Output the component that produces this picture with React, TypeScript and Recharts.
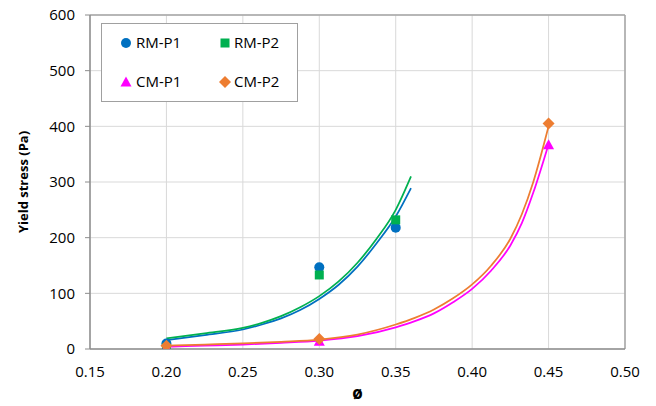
import React from 'react';
import {
  ComposedChart,
  XAxis,
  YAxis,
  CartesianGrid,
  Line,
  Scatter,
  Legend,
  ReferenceLine,
} from 'recharts';

// ---- data ----
const xTicks = [0.15, 0.2, 0.25, 0.3, 0.35, 0.4, 0.45, 0.5];
const yTicks = [0, 100, 200, 300, 400, 500, 600];

const rmP1 = [
  { x: 0.2, y: 10 },
  { x: 0.3, y: 147 },
  { x: 0.35, y: 218 },
];
const rmP2 = [
  { x: 0.2, y: 2 },
  { x: 0.3, y: 133 },
  { x: 0.35, y: 232 },
];
const cmP1 = [
  { x: 0.2, y: 3 },
  { x: 0.3, y: 14 },
  { x: 0.45, y: 367 },
];
const cmP2 = [
  { x: 0.2, y: 6 },
  { x: 0.3, y: 18 },
  { x: 0.45, y: 405 },
];

// trend lines
const rmPhi = [0.2, 0.225, 0.25, 0.2625, 0.275, 0.2875, 0.3, 0.3125, 0.325, 0.3375, 0.35, 0.36];
const rmP1Fit = [16, 25, 35, 44, 55, 70, 90, 115, 148, 190, 238, 289];
const rmP2Fit = [19, 28, 38, 47, 59, 75, 95, 121, 155, 198, 250, 310];

const cmPhi = [0.2, 0.225, 0.25, 0.275, 0.3, 0.325, 0.35, 0.3625, 0.375, 0.3875, 0.4, 0.4125, 0.425, 0.4325, 0.44, 0.45];
const cmP1Fit = [4, 6, 8, 11, 15, 23, 39, 50, 64, 84, 108, 141, 186, 226, 281, 368];
const cmP2Fit = [6, 8, 10, 13, 17, 26, 44, 56, 71, 91, 116, 150, 198, 242, 300, 400];

const legendNames = ['RM-P1', 'RM-P2', 'CM-P1', 'CM-P2'];

// ---- styles ----
const BLUE = '#0070C0';
const GREEN = '#00B050';
const MAGENTA = '#FF00FF';
const ORANGE = '#ED7D31';
const FONT = '"Open Sans", sans-serif';
const TEXT = '#000000';

const toPts = (xs: number[], ys: number[]) => xs.map((x, i) => ({ x, y: ys[i] }));

const circleShape = (color: string) => (p: any) => (
  <circle cx={p.cx} cy={p.cy} r={5} fill={color} />
);
const squareShape = (color: string) => (p: any) => (
  <rect x={p.cx - 4.5} y={p.cy - 4.5} width={9} height={9} fill={color} />
);
const triangleShape = (color: string) => (p: any) => (
  <polygon
    points={`${p.cx},${p.cy - 5.5} ${p.cx + 5.5},${p.cy + 4.5} ${p.cx - 5.5},${p.cy + 4.5}`}
    fill={color}
  />
);
const diamondShape = (color: string) => (p: any) => (
  <polygon
    points={`${p.cx},${p.cy - 6} ${p.cx + 6},${p.cy} ${p.cx},${p.cy + 6} ${p.cx - 6},${p.cy}`}
    fill={color}
  />
);

const LegendBox = () => {
  const w = 197;
  const h = 79;
  const ts = { fontFamily: FONT, fontSize: 15, fill: TEXT } as any;
  return (
    <svg width={w} height={h} style={{ display: 'block' }}>
      <rect x={0.5} y={0.5} width={w - 1} height={h - 1} fill="#fff" stroke="#A0A0A0" strokeWidth={1} />
      <circle cx={25} cy={20} r={5} fill={BLUE} />
      <text x={35} y={20} dy="0.36em" style={ts}>{legendNames[0]}</text>
      <rect x={119.5} y={15.5} width={9} height={9} fill={GREEN} />
      <text x={133} y={20} dy="0.36em" style={ts}>{legendNames[1]}</text>
      <polygon points={`25,53.5 30.5,63.5 19.5,63.5`} fill={MAGENTA} />
      <text x={35} y={59} dy="0.36em" style={ts}>{legendNames[2]}</text>
      <polygon points={`124,53 130,59 124,65 118,59`} fill={ORANGE} />
      <text x={133} y={59} dy="0.36em" style={ts}>{legendNames[3]}</text>
    </svg>
  );
};

const YLabel = (props: any) => {
  const vb = props.viewBox || {};
  const cy = (vb.y || 0) + (vb.height || 0) / 2;
  return (
    <text
      x={23}
      y={cy}
      transform={`rotate(-90, 23, ${cy})`}
      textAnchor="middle"
      dominantBaseline="central"
      style={{ fontFamily: FONT, fontSize: 13, fontWeight: 700, fill: TEXT }}
    >
      Yield stress (Pa)
    </text>
  );
};

export default function App() {
  return (
    <div style={{ position: 'absolute', left: 0, top: 0, width: 656, height: 406, background: '#fff' }}>
      <ComposedChart
        width={656}
        height={406}
        margin={{ top: 15, right: 31, bottom: 0, left: 0 }}
      >
        <CartesianGrid stroke="#D9D9D9" strokeWidth={1} />
        <XAxis
          dataKey="x"
          type="number"
          domain={[0.15, 0.5]}
          ticks={xTicks}
          tickFormatter={(v: number) => v.toFixed(2)}
          interval={0}
          height={57}
          allowDataOverflow
          axisLine={{ stroke: '#8C8C8C', strokeWidth: 1.5 }}
          tickLine={false}
          tickSize={0}
          tickMargin={17}
          tick={{ fontFamily: FONT, fontSize: 15, fill: TEXT }}
          label={{
            value: 'ø',
            position: 'insideBottom',
            offset: 7,
            style: { fontFamily: FONT, fontSize: 17, fontWeight: 700, fill: TEXT },
          }}
        />
        <YAxis
          type="number"
          domain={[0, 600]}
          ticks={yTicks}
          interval={0}
          width={90}
          allowDataOverflow
          axisLine={{ stroke: '#8C8C8C', strokeWidth: 1.5 }}
          tickLine={{ stroke: '#8C8C8C' }}
          tickSize={5}
          tickMargin={10}
          tick={{ fontFamily: FONT, fontSize: 15, fill: TEXT }}
          label={<YLabel />}
        />
        <ReferenceLine y={600} stroke="#A6A6A6" strokeWidth={1.5} />
        <ReferenceLine x={0.5} stroke="#A6A6A6" strokeWidth={1.5} />

        <Line data={toPts(rmPhi, rmP1Fit)} dataKey="y" type="monotone" stroke={BLUE} strokeWidth={1.75} dot={false} activeDot={false} isAnimationActive={false} legendType="none" />
        <Line data={toPts(rmPhi, rmP2Fit)} dataKey="y" type="monotone" stroke={GREEN} strokeWidth={1.75} dot={false} activeDot={false} isAnimationActive={false} legendType="none" />
        <Line data={toPts(cmPhi, cmP1Fit)} dataKey="y" type="monotone" stroke={MAGENTA} strokeWidth={1.75} dot={false} activeDot={false} isAnimationActive={false} legendType="none" />
        <Line data={toPts(cmPhi, cmP2Fit)} dataKey="y" type="monotone" stroke={ORANGE} strokeWidth={1.75} dot={false} activeDot={false} isAnimationActive={false} legendType="none" />

        <Scatter name="RM-P1" data={rmP1} dataKey="y" fill={BLUE} shape={circleShape(BLUE)} isAnimationActive={false} />
        <Scatter name="RM-P2" data={rmP2} dataKey="y" fill={GREEN} shape={squareShape(GREEN)} isAnimationActive={false} />
        <Scatter name="CM-P1" data={cmP1} dataKey="y" fill={MAGENTA} shape={triangleShape(MAGENTA)} isAnimationActive={false} />
        <Scatter name="CM-P2" data={cmP2} dataKey="y" fill={ORANGE} shape={diamondShape(ORANGE)} isAnimationActive={false} />

        <Legend
          layout="horizontal"
          align="center"
          verticalAlign="middle"
          content={() => <LegendBox />}
          wrapperStyle={{ position: 'absolute', left: 101, top: 23, width: 197, height: 79 }}
        />
      </ComposedChart>
    </div>
  );
}
